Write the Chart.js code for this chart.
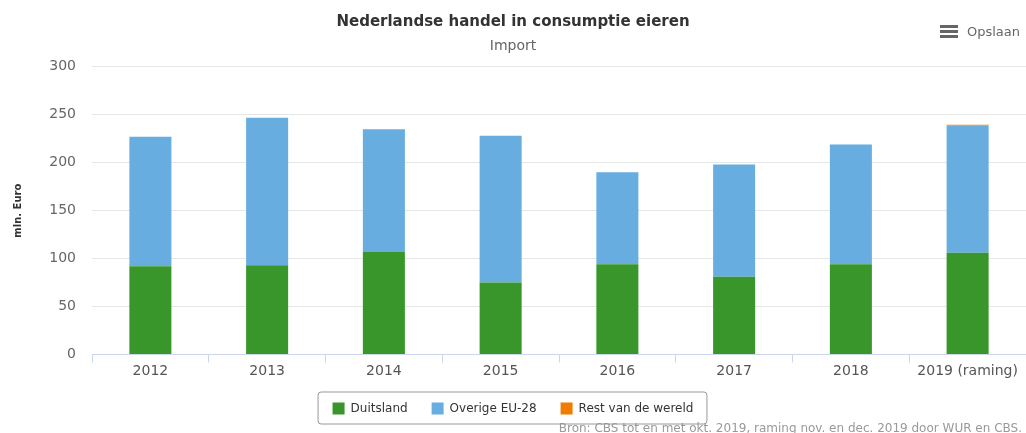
<!DOCTYPE html>
<html>
<head>
<meta charset="utf-8">
<script src="https://cdn.jsdelivr.net/npm/chart.js@4"></script>
<style>
  html, body { margin: 0; padding: 0; background: #fff; overflow: hidden; }
  #wrap { position: relative; width: 1026px; height: 433px; }
  #menu { position: absolute; top: 24px; right: 6px; font: 13px "DejaVu Sans", sans-serif; color: #666; display: flex; align-items: center; }
  #menu .icon { width: 18px; height: 13px; margin-right: 9px; display: flex; flex-direction: column; justify-content: space-between; }
  #menu .icon span { display: block; height: 3px; background: #666; }
  #source { position: absolute; right: 4px; top: 421px; font: 12px "DejaVu Sans", sans-serif; color: #999; white-space: nowrap; }
</style>
</head>
<body>
<div id="wrap">
  <canvas id="chart_import" width="1026" height="433"></canvas>
  <div id="menu"><div class="icon"><span></span><span></span><span></span></div>Opslaan</div>
  <div id="source">Bron: CBS tot en met okt. 2019, raming nov. en dec. 2019 door WUR en CBS.</div>
</div>
<script>
// mln. Euro, import consumptie-eieren
var years = ['2012', '2013', '2014', '2015', '2016', '2017', '2018', '2019 (raming)'];
var duitsland = [92, 93, 107, 75, 94, 81, 94, 106];
var overigeEU28 = [135, 154, 128, 153, 96, 117, 125, 133];
var restVanDeWereld = [0, 0, 0, 0, 0, 0, 0, 0.6];
var yTicks = [0, 50, 100, 150, 200, 250, 300];

var chart_import = new Chart(document.getElementById('chart_import'), {
    type: 'bar',
    data: {
        labels: years,
        datasets: [
            {
                label: 'Duitsland',
                data: duitsland,
                backgroundColor: '#38962a',
                barPercentage: 0.36,
                categoryPercentage: 1
            },
            {
                label: 'Overige EU-28',
                data: overigeEU28,
                backgroundColor: '#68ade0',
                barPercentage: 0.36,
                categoryPercentage: 1
            },
            {
                label: 'Rest van de wereld',
                data: restVanDeWereld,
                backgroundColor: '#f07c00',
                barPercentage: 0.36,
                categoryPercentage: 1
            }
        ]
    },
    options: {
        animation: false,
        responsive: false,
        layout: {
            padding: { top: 0, left: 0, right: 0, bottom: 11 }
        },
        plugins: {
            title: {
                display: true,
                text: 'Nederlandse handel in consumptie eieren',
                color: '#333',
                font: { family: 'DejaVu Sans', size: 15, weight: 'bold' },
                padding: { top: 13, bottom: 3 }
            },
            subtitle: {
                display: true,
                text: 'Import',
                color: '#666',
                font: { family: 'DejaVu Sans', size: 14 },
                padding: { top: 4, bottom: 12 }
            },
            legend: {
                position: 'bottom',
                maxHeight: 43.5,
                labels: {
                    boxWidth: 12,
                    boxHeight: 12,
                    padding: 24,
                    color: '#333',
                    font: { family: 'DejaVu Sans', size: 12 }
                }
            },
            tooltip: { enabled: false }
        },
        scales: {
            x: {
                stacked: true,
                afterFit: function (scale) { scale.height = 24; },
                grid: {
                    offset: true,
                    drawOnChartArea: false,
                    tickLength: 8,
                    color: '#ccd6eb'
                },
                border: { color: '#ccd6eb' },
                ticks: {
                    padding: 0,
                    color: '#555',
                    font: { family: 'DejaVu Sans', size: 14 }
                }
            },
            y: {
                stacked: true,
                min: 0,
                max: 300,
                afterFit: function (scale) { scale.width = 92; },
                afterBuildTicks: function (scale) {
                    scale.ticks = yTicks.map(function (v) { return { value: v }; });
                },
                title: {
                    display: true,
                    text: 'mln. Euro',
                    color: '#333',
                    font: { family: 'DejaVu Sans', size: 10, weight: 'bold' },
                    padding: { top: 12, bottom: 0 }
                },
                grid: { color: '#e6e6e6', drawTicks: false },
                border: { display: false },
                ticks: {
                    padding: 16,
                    color: '#666',
                    font: { family: 'DejaVu Sans', size: 14 }
                }
            }
        }
    },
    plugins: [{
        id: 'legendFrame',
        beforeDraw: (chart) => {
            const ctx = chart.ctx;
            ctx.save();
            ctx.fillStyle = 'white';
            ctx.fillRect(0, 0, chart.width, chart.height);
            ctx.restore();
        },
        afterDraw: (chart) => {
            const boxes = chart.legend.legendHitBoxes;
            if (!boxes || !boxes.length) return;
            const first = boxes[0], last = boxes[boxes.length - 1];
            const x0 = first.left - 14.5, x1 = last.left + last.width + 13.5;
            const y0 = first.top - 10.5, y1 = first.top + first.height + 9.5;
            const ctx = chart.ctx;
            ctx.save();
            ctx.strokeStyle = '#999';
            ctx.lineWidth = 1;
            ctx.beginPath();
            ctx.roundRect(x0, y0, x1 - x0, y1 - y0, 3);
            ctx.stroke();
            ctx.restore();
        }
    }]
});
</script>
</body>
</html>
